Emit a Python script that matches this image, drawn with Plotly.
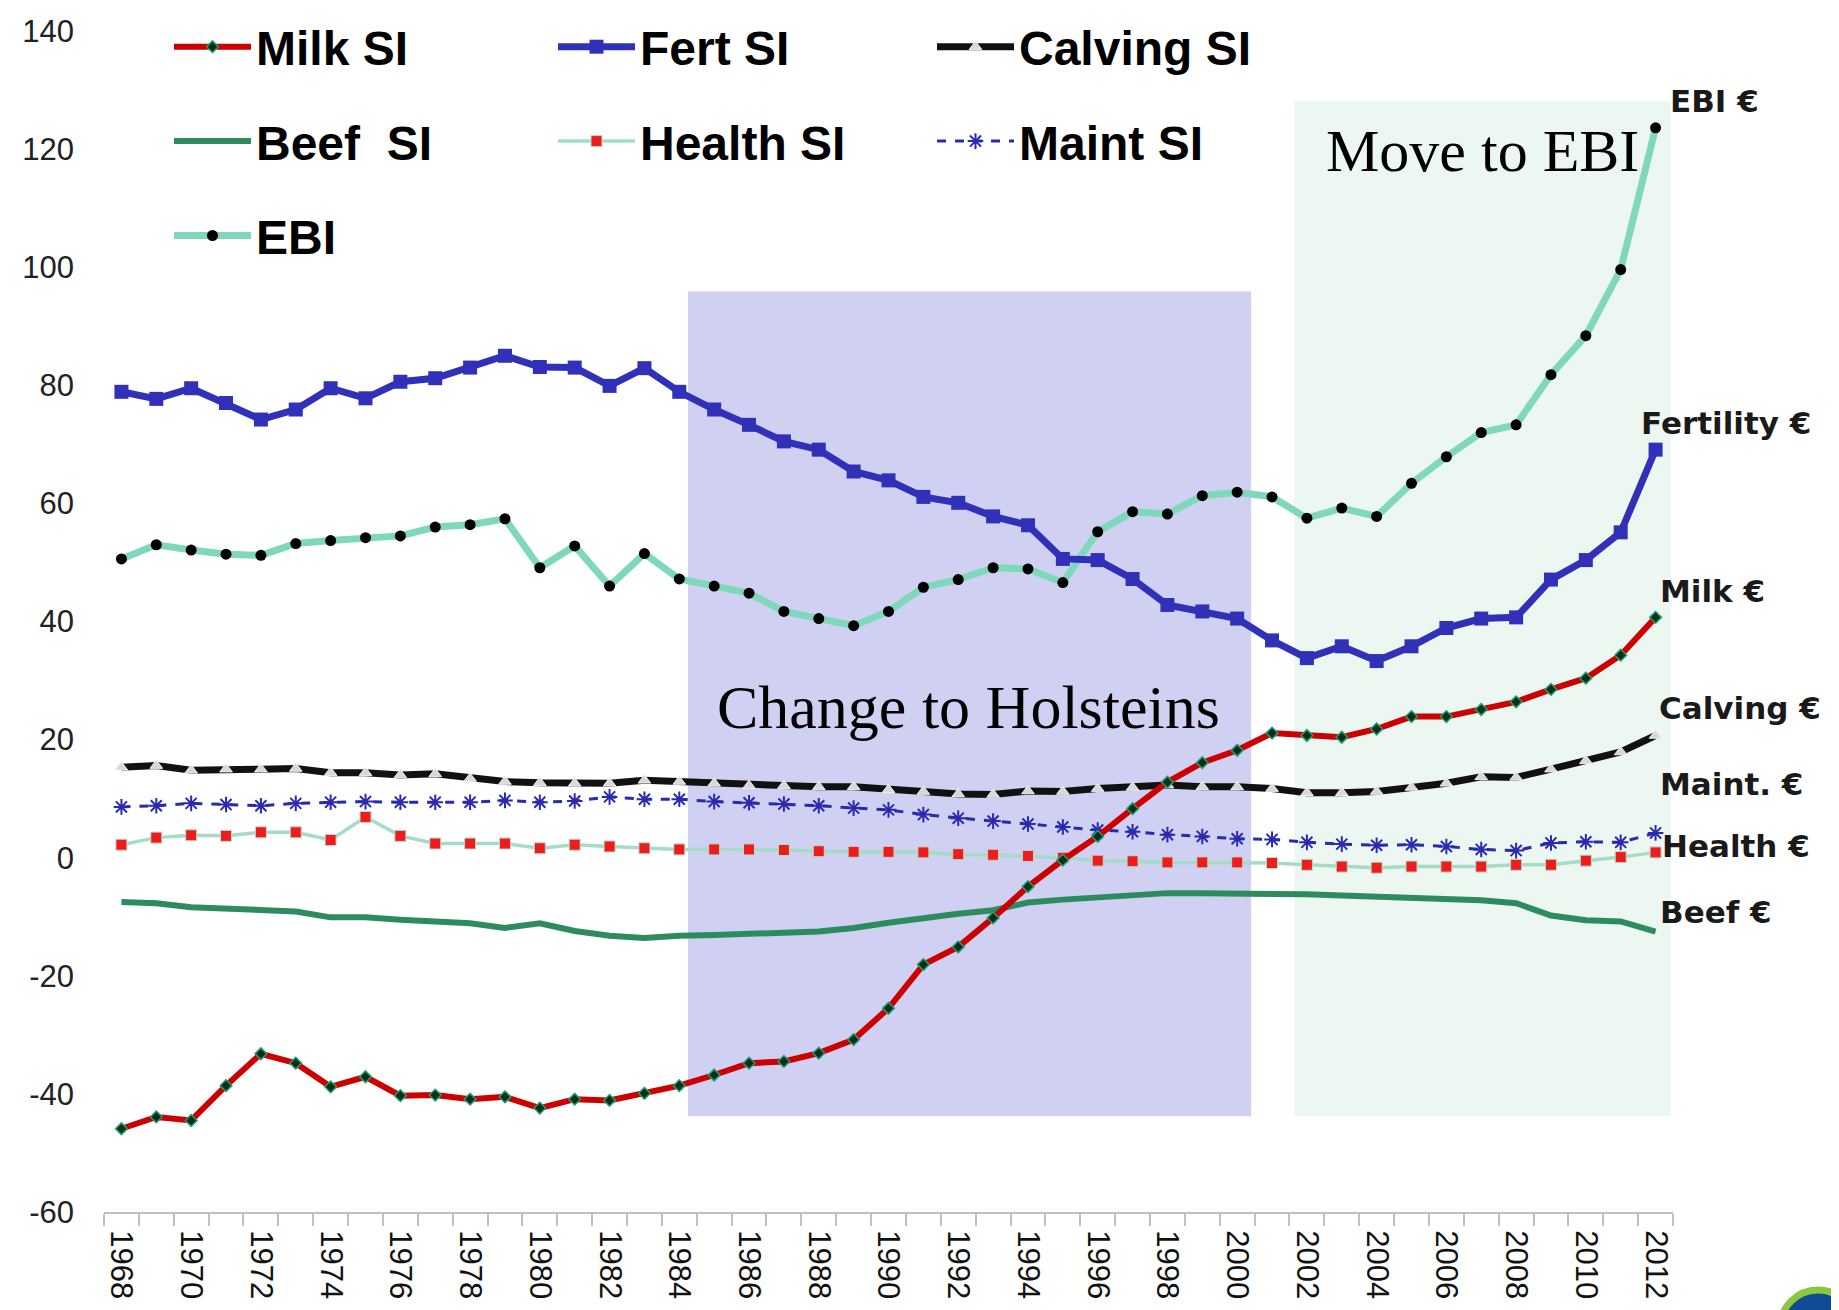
import plotly.graph_objects as go

years = list(range(1968, 2013))
tick_years = list(range(1968, 2013, 2))
y_ticks = [-60, -40, -20, 0, 20, 40, 60, 80, 100, 120, 140]

milk = [-45.9, -43.9, -44.5, -38.6, -33.2, -34.8, -38.8, -37.1, -40.3, -40.2,
        -40.9, -40.5, -42.4, -40.9, -41.1, -39.9, -38.6, -36.8, -34.8, -34.5,
        -33.1, -30.8, -25.5, -18.1, -15.1, -10.2, -4.9, -0.4, 3.6, 8.3,
        12.8, 16.1, 18.2, 21.1, 20.7, 20.4, 21.8, 23.9, 23.9, 25.1,
        26.4, 28.5, 30.4, 34.3, 40.7]
fert = [78.9, 77.7, 79.5, 77.0, 74.2, 75.9, 79.5, 77.8, 80.6, 81.2,
        83.0, 85.0, 83.1, 83.0, 79.9, 82.9, 78.9, 75.9, 73.3, 70.5,
        69.1, 65.4, 63.9, 61.1, 60.1, 57.8, 56.3, 50.6, 50.4, 47.2,
        42.8, 41.7, 40.5, 36.8, 33.8, 35.8, 33.3, 35.8, 38.9, 40.5,
        40.7, 47.1, 50.4, 55.1, 69.1]
calving = [15.3, 15.6, 14.8, 15.0, 15.0, 15.1, 14.4, 14.4, 14.0, 14.2,
           13.4, 12.9, 12.7, 12.6, 12.6, 13.1, 12.9, 12.6, 12.2, 12.2,
           12.0, 12.0, 11.5, 11.2, 10.8, 10.7, 11.3, 11.2, 11.7, 11.9,
           12.3, 12.0, 12.0, 11.7, 11.0, 11.0, 11.2, 11.9, 12.6, 13.7,
           13.6, 15.0, 16.4, 17.9, 20.7]
beef = [-7.5, -7.7, -8.4, -8.7, -8.8, -9.1, -10.1, -10.1, -10.5, -10.7,
        -11.1, -11.9, -11.1, -12.4, -13.2, -13.6, -13.2, -13.1, -13.0, -12.7,
        -12.5, -11.9, -11.0, -10.2, -9.5, -8.9, -7.6, -7.1, -6.7, -6.2,
        -6.0, -6.0, -6.0, -6.0, -6.2, -6.4, -6.6, -6.9, -7.0, -7.2,
        -7.7, -9.8, -10.6, -10.8, -12.5]
health = [2.2, 3.4, 3.8, 3.7, 4.3, 4.3, 3.0, 6.9, 3.7, 2.4,
          2.4, 2.4, 1.6, 2.2, 1.9, 1.6, 1.4, 1.4, 1.4, 1.3,
          1.1, 1.0, 1.0, 0.9, 0.6, 0.5, 0.3, 0.0, -0.5, -0.6,
          -0.8, -0.8, -0.8, -0.9, -1.2, -1.5, -1.7, -1.5, -1.5, -1.5,
          -1.2, -1.2, -0.5, 0.1, 0.9]
maint = [8.6, 8.8, 9.2, 9.0, 8.8, 9.2, 9.4, 9.5, 9.4, 9.4,
         9.4, 9.7, 9.4, 9.6, 10.3, 9.9, 9.9, 9.5, 9.3, 9.1,
         8.8, 8.4, 8.1, 7.3, 6.7, 6.2, 5.7, 5.2, 4.7, 4.4,
         3.9, 3.6, 3.2, 3.1, 2.6, 2.3, 2.1, 2.2, 1.9, 1.4,
         1.2, 2.5, 2.7, 2.6, 4.2]
ebi = [50.6, 53.0, 52.1, 51.4, 51.2, 53.2, 53.7, 54.2, 54.5, 56.0,
       56.4, 57.4, 49.1, 52.8, 46.0, 51.5, 47.2, 46.0, 44.8, 41.7,
       40.5, 39.3, 41.7, 45.8, 47.1, 49.1, 48.9, 46.6, 55.2, 58.6,
       58.2, 61.3, 61.9, 61.1, 57.5, 59.2, 57.8, 63.4, 67.9, 72.0,
       73.3, 81.8, 88.4, 99.6, 123.6]

end_labels = ["EBI €", "Fertility €", "Milk €", "Calving €", "Maint. €", "Health €", "Beef €"]
end_label_y = [128.1, 73.6, 45.1, 25.3, 12.4, 2.0, -9.2]
end_label_shift = [12, -17, 2, 1, 2, 4, 2]

W, H = 1839, 1310
ML, MR, MT, MB = 96, 174, 23, 106
PW, PH = W - ML - MR, H - MT - MB

fig = go.Figure()

def add(name, y, legend, rank, line, marker=None, mode="lines+markers"):
    fig.add_trace(go.Scatter(
        x=years, y=y, name=name, mode=mode, line=line,
        marker=marker if marker else {}, legend=legend, legendgroup=name,
        legendrank=rank, showlegend=True))

# drawing order (first drawn = bottom)
add("Beef  SI", beef, "legend", 2,
    dict(color="#2e8b60", width=6), mode="lines")
add("Health SI", health, "legend2", 2,
    dict(color="#a5dcc6", width=3.5),
    dict(symbol="square", size=11, color="#ee1c1c", line=dict(color="#b8dcc8", width=1)))
add("Maint SI", maint, "legend3", 2,
    dict(color="#2a2ab0", width=3, dash="dash"),
    dict(symbol="asterisk-open", size=13, line=dict(color="#2a2ab0", width=2)))
add("Calving SI", calving, "legend3", 1,
    dict(color="#111111", width=7),
    dict(symbol="triangle-up", size=11, color="#d8d8d8", line=dict(color="#f0f0f0", width=1)))
add("EBI", ebi, "legend", 3,
    dict(color="#7fd8bb", width=7),
    dict(symbol="circle", size=11, color="#000000"))
add("Fert SI", fert, "legend2", 1,
    dict(color="#3030b8", width=7),
    dict(symbol="square", size=14, color="#3030b8"))
add("Milk SI", milk, "legend", 1,
    dict(color="#cc0000", width=6),
    dict(symbol="diamond", size=9, color="#0a2e1a", line=dict(color="#1fa070", width=1.5)))

# shaded periods
fig.add_shape(type="rect", xref="x", yref="y", x0=1984.25, x1=2000.4, y0=-43.8, y1=95.9,
              fillcolor="#d0d0f2", line=dict(width=0), layer="below")
fig.add_shape(type="rect", xref="x", yref="y", x0=2001.64, x1=2012.44, y0=-43.8, y1=128.1,
              fillcolor="#edf7f1", line=dict(width=0), layer="below")

fig.add_annotation(x=1992.28, y=25.6, xref="x", yref="y", text="Change to Holsteins",
                   showarrow=False, font=dict(family="Liberation Serif", size=62, color="black"),
                   xanchor="center", yanchor="middle")
fig.add_annotation(x=2007.05, y=119.6, xref="x", yref="y", text="Move to EBI",
                   showarrow=False, font=dict(family="Liberation Serif", size=60, color="black"),
                   xanchor="center", yanchor="middle")

for t, yv, sh in zip(end_labels, end_label_y, end_label_shift):
    fig.add_annotation(x=2012, y=yv, xref="x", yref="y", text=t, showarrow=False,
                       xanchor="left", yanchor="middle", xshift=sh,
                       font=dict(family="DejaVu Sans", size=31, color="#1a1a1a", weight="bold"))

# partial logo at bottom-right corner
def px_x(p):
    return (p - ML) / PW
def px_y(p):
    return (H - MB - p) / PH
fig.add_shape(type="line", xref="paper", yref="paper", x0=px_x(1607), x1=px_x(1790),
              y0=px_y(1308), y1=px_y(1308), line=dict(color="#8dc63f", width=3), layer="above")
fig.add_shape(type="circle", xref="paper", yref="paper", x0=px_x(1772), x1=px_x(1848),
              y0=px_y(1358), y1=px_y(1282), fillcolor="#0f4c96", line=dict(color="#8dc63f", width=7),
              layer="above")

legend_font = dict(family="Liberation Sans", size=48, color="#000000", weight="bold")
common = dict(xanchor="left", yanchor="top", bgcolor="rgba(0,0,0,0)", font=legend_font,
              itemwidth=77, tracegroupgap=29, orientation="v", traceorder="grouped")
legend_y = 1.0 + 22 / PH

fig.update_layout(
    width=W, height=H,
    margin=dict(l=ML, r=MR, t=MT, b=MB, autoexpand=False),
    paper_bgcolor="white", plot_bgcolor="white",
    showlegend=True,
    legend=dict(x=(161 - ML) / PW, y=legend_y, **common),
    legend2=dict(x=(545 - ML) / PW, y=legend_y, **common),
    legend3=dict(x=(924 - ML) / PW, y=legend_y, **common),
    xaxis=dict(
        range=[1967.5, 2012.5], tickmode="array", tickvals=tick_years,
        ticktext=[str(v) for v in tick_years], tickangle=90, ticks="",
        tickfont=dict(family="Liberation Sans", size=31, color="#111111"),
        ticklabelstandoff=10,
        showline=True, linecolor="#c0c0c0", linewidth=2, showgrid=False, zeroline=False,
        minor=dict(tickmode="array", tickvals=[y - 0.5 for y in years] + [2012.5],
                   ticks="outside", ticklen=12, tickcolor="#c0c0c0", tickwidth=2, showgrid=False),
    ),
    yaxis=dict(
        range=[-60, 140], tickmode="array", tickvals=y_ticks,
        ticktext=[str(v) for v in y_ticks], ticks="",
        tickfont=dict(family="Liberation Sans", size=31, color="#222222"),
        ticklabelstandoff=29,
        showline=False, showgrid=False, zeroline=False,
    ),
)

fig.write_html("out.html")
